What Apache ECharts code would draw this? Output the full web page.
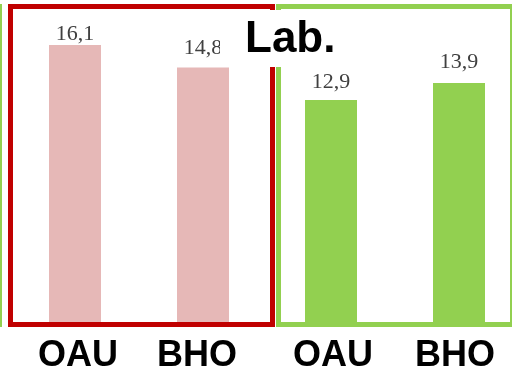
<!DOCTYPE html>
<html>
<head>
<meta charset="utf-8">
<style>html,body{margin:0;padding:0;background:#fff;}#c{width:512px;height:371px;}</style>
<script src="https://cdn.jsdelivr.net/npm/echarts@6/dist/echarts.min.js"></script>
</head>
<body>
<div id="c"></div>
<script>
const categories = ['OAU', 'BHO', 'OAU', 'BHO'];
const leftValues = [16.1, 14.8];
const rightValues = [12.9, 13.9];
const titleText = 'Lab.';

// label offsets above each bar (style only)
const leftLabelGap = [0, 8];
const rightLabelGap = [7, 10];

const chart = echarts.init(document.getElementById('c'), null, {renderer: 'canvas'});
const fmt = p => String(p.value).replace('.', ',');
const labelCfg = {show: true, position: 'top', distance: 1, formatter: fmt,
  fontFamily: 'Liberation Serif', fontSize: 22, color: '#404040'};
const tickStyle = {fontFamily: 'Liberation Sans', fontWeight: 'bold', fontSize: 36, color: '#000'};
const withGap = (vals, gaps) => vals.map((v, i) => ({value: v, label: {distance: gaps[i]}}));

chart.setOption({
  animation: false,
  backgroundColor: '#ffffff',
  title: {
    text: titleText, left: 220, top: 10, z: 20,
    backgroundColor: '#ffffff', padding: [8, 25, 5, 25],
    textStyle: {fontFamily: 'Liberation Sans', fontWeight: 'bold', fontSize: 44, lineHeight: 44, color: '#000'}
  },
  grid: {left: 11, width: 512, top: 12.4, bottom: 49, containLabel: false, outerBoundsMode: 'none'},
  xAxis: {
    type: 'category', data: categories,
    axisLine: {show: false}, axisTick: {show: false},
    axisLabel: {
      margin: 16,
      formatter: (v, i) => ['{a|', '{b|', '{c|', '{d|'][i] + v + '}',
      rich: {
        a: Object.assign({padding: [0, 0, 0, 6]}, tickStyle),
        b: Object.assign({padding: [0, 12, 0, 0]}, tickStyle),
        c: Object.assign({padding: [0, 0, 0, 4]}, tickStyle),
        d: Object.assign({padding: [0, 8, 0, 0]}, tickStyle)
      }
    }
  },
  yAxis: {type: 'value', min: 0, max: 18, show: false, splitLine: {show: false}},
  series: [
    {type: 'bar', barWidth: 52, barGap: '-100%', data: [...withGap(leftValues, leftLabelGap), '-', '-'],
     itemStyle: {color: '#e6b8b7'}, label: labelCfg},
    {type: 'bar', barWidth: 52, barGap: '-100%', data: ['-', '-', ...withGap(rightValues, rightLabelGap)],
     itemStyle: {color: '#92d050'}, label: labelCfg}
  ],
  graphic: [
    {type: 'rect', z: 10, shape: {x: -250, y: 6.5, width: 249.5, height: 318}, style: {fill: 'none', stroke: '#92d050', lineWidth: 5}},
    {type: 'rect', z: 10, shape: {x: 10.5, y: 6.5, width: 262, height: 318}, style: {fill: 'none', stroke: '#c00000', lineWidth: 5}},
    {type: 'rect', z: 10, shape: {x: 278.5, y: 6.5, width: 234, height: 318}, style: {fill: 'none', stroke: '#92d050', lineWidth: 5}}
  ]
});
</script>
</body>
</html>
